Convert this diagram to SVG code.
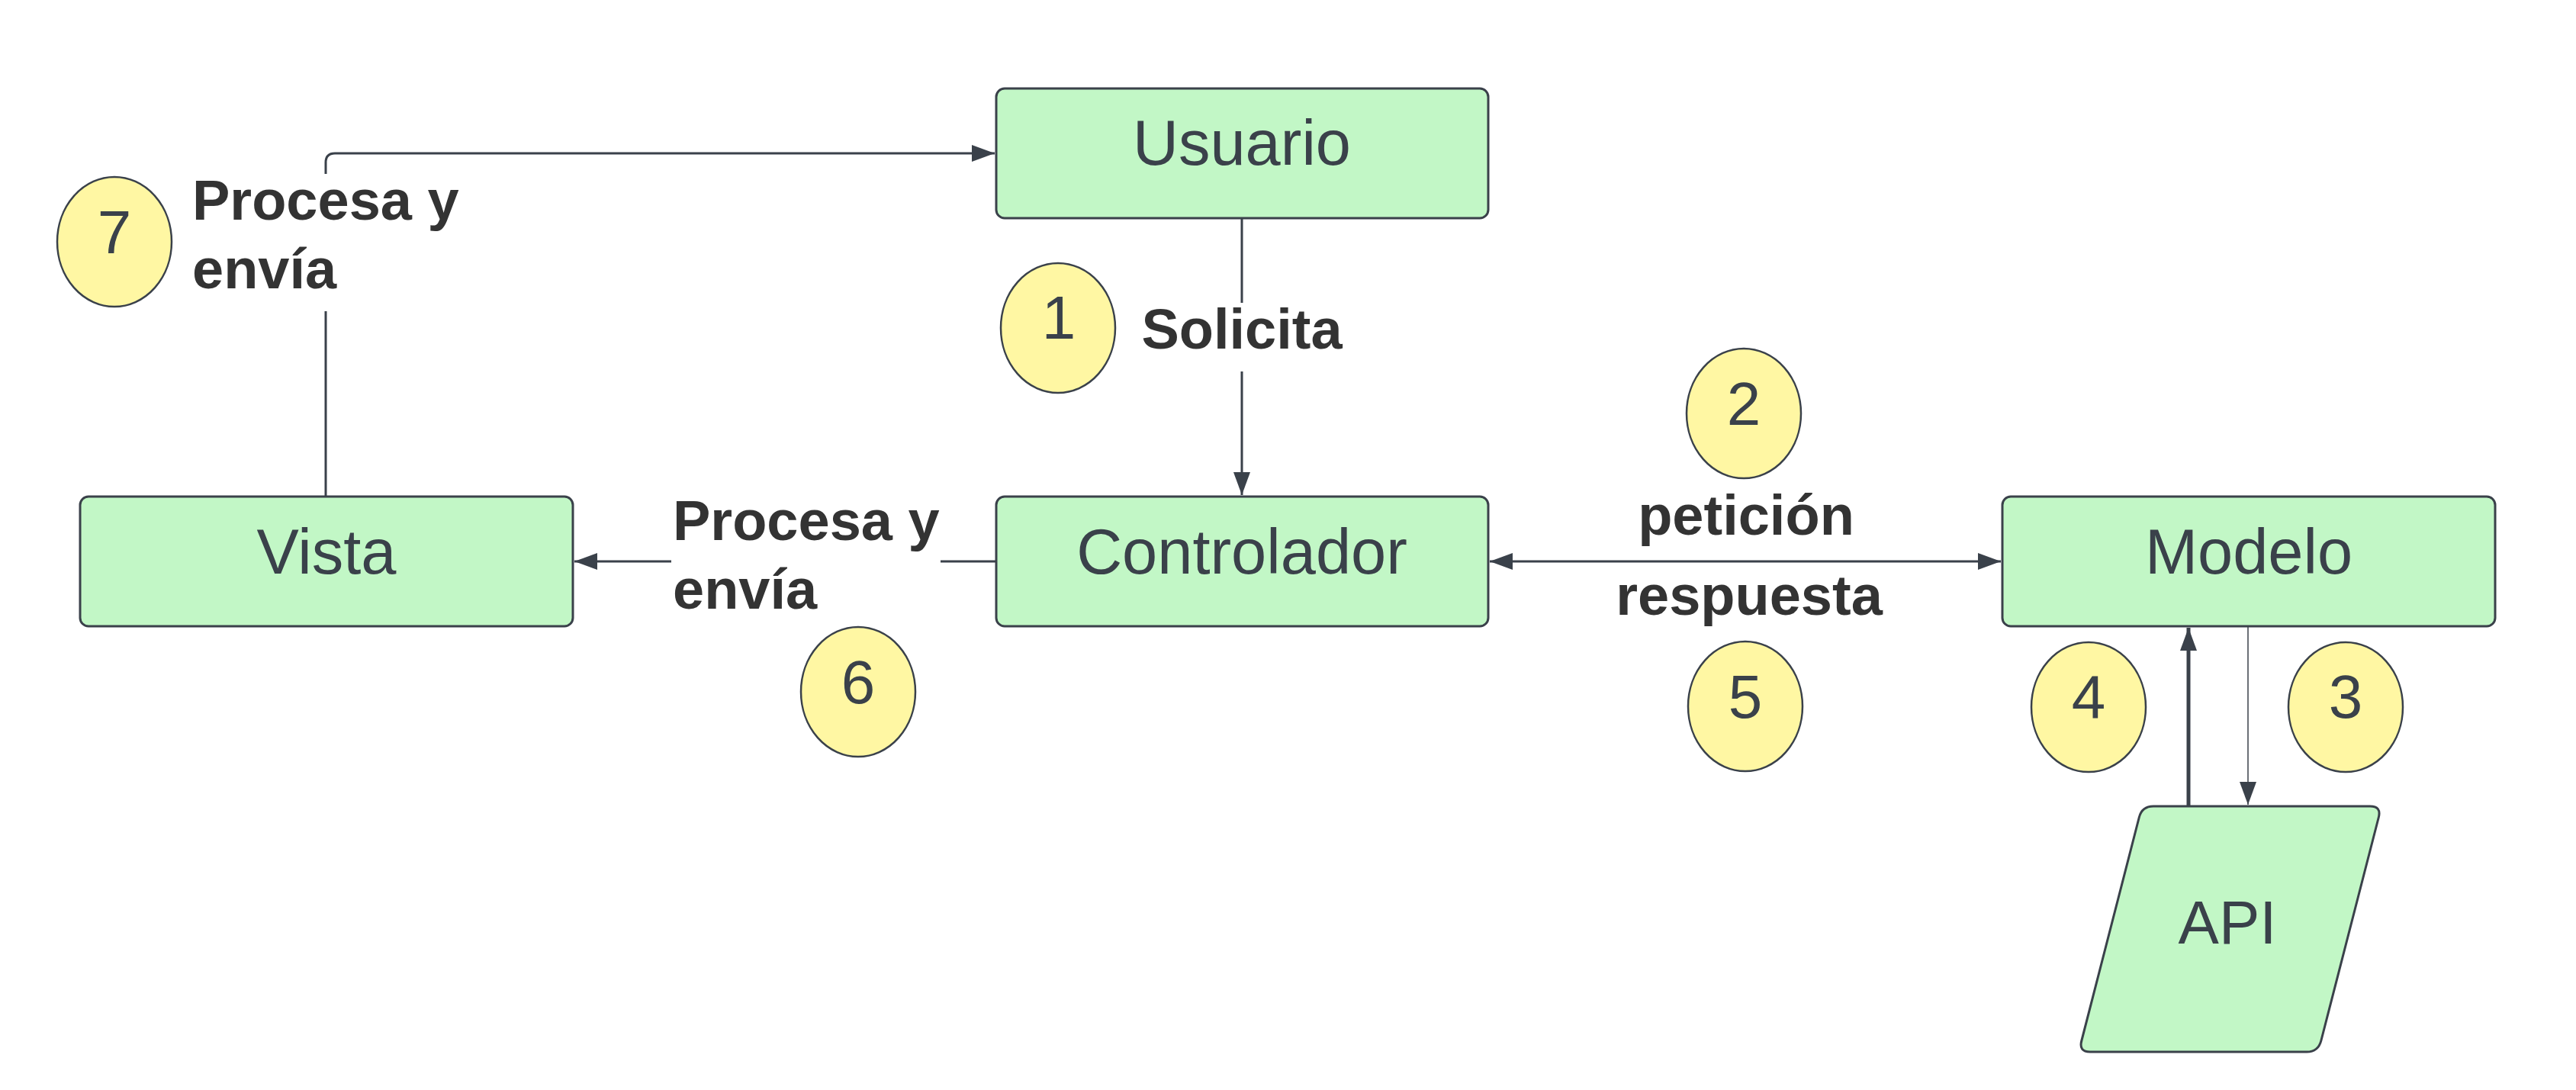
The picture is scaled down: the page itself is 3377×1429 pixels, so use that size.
<svg xmlns="http://www.w3.org/2000/svg" width="3377" height="1429" viewBox="0 0 3377 1429">
<style>
.box{fill:#c2f7c6;stroke:#3a414a;stroke-width:3}
.num{fill:#fff7a3;stroke:#3a414a;stroke-width:2.5}
.nt{font-family:"Liberation Sans",Arial,sans-serif;font-size:83px;fill:#3a414a;text-anchor:middle}
.nn{font-family:"Liberation Sans",Arial,sans-serif;font-size:80px;fill:#3a414a;text-anchor:middle}
.lb{font-family:"Liberation Sans",Arial,sans-serif;font-size:74px;font-weight:bold;fill:#333333}
.ln{fill:none;stroke:#3a414a;stroke-width:3}
</style>
<defs>
<marker id="ah" markerUnits="userSpaceOnUse" markerWidth="32" markerHeight="24" refX="30" refY="11" orient="auto-start-reverse" viewBox="0 0 32 22">
<path d="M0,0 L30,11 L0,22 Z" fill="#3a414a"/>
</marker>
</defs>
<rect width="3377" height="1429" fill="#ffffff"/>
<g id="connectors">
<path class="ln" d="M427,651 L427,408"/>
<path class="ln" d="M427,228 L427,213 Q427,201 439,201 L1304,201" marker-end="url(#ah)"/>
<path class="ln" d="M1628,286 L1628,397"/>
<path class="ln" d="M1628,487 L1628,649" marker-end="url(#ah)"/>
<path class="ln" d="M1953,736 L2623,736" marker-start="url(#ah)" marker-end="url(#ah)"/>
<path class="ln" d="M1305,736 L1233,736"/>
<path class="ln" d="M880,736 L753,736" marker-end="url(#ah)"/>
<path class="ln" style="stroke-width:5" d="M2869,1057 L2869,823" marker-end="url(#ah)"/>
<path class="ln" style="stroke-width:1.5" d="M2947,821 L2947,1055" marker-end="url(#ah)"/>
</g>
<g id="usuario"><rect class="box" x="1306" y="116" width="645" height="170" rx="11"/><text class="nt" x="1628" y="216">Usuario</text></g>
<g id="controlador"><rect class="box" x="1306" y="651" width="645" height="170" rx="11"/><text class="nt" x="1628" y="752">Controlador</text></g>
<g id="vista"><rect class="box" x="105" y="651" width="646" height="170" rx="11"/><text class="nt" x="428" y="752">Vista</text></g>
<g id="modelo"><rect class="box" x="2625" y="651" width="646" height="170" rx="11"/><text class="nt" x="2948" y="752">Modelo</text></g>
<g id="api"><path class="box" d="M2823,1057 L3107,1057 Q3122,1057 3118.3,1071.5 L3042.8,1364.5 Q3039,1379 3024,1379 L2740,1379 Q2725,1379 2728.8,1364.5 L2804.3,1071.5 Q2808,1057 2823,1057 Z"/><text class="nt" style="font-size:80px" x="2920" y="1237">API</text></g>
<g id="n1"><ellipse class="num" cx="1387" cy="430" rx="75" ry="85"/><text class="nn" x="1388" y="444">1</text></g>
<g id="n2"><ellipse class="num" cx="2286" cy="542" rx="75" ry="85"/><text class="nn" x="2286" y="557">2</text></g>
<g id="n3"><ellipse class="num" cx="3075" cy="927" rx="75" ry="85"/><text class="nn" x="3075" y="941">3</text></g>
<g id="n4"><ellipse class="num" cx="2738" cy="927" rx="75" ry="85"/><text class="nn" x="2738" y="941">4</text></g>
<g id="n5"><ellipse class="num" cx="2288" cy="926" rx="75" ry="85"/><text class="nn" x="2288" y="941">5</text></g>
<g id="n6"><ellipse class="num" cx="1125" cy="907" rx="75" ry="85"/><text class="nn" x="1125" y="922">6</text></g>
<g id="n7"><ellipse class="num" cx="150" cy="317" rx="75" ry="85"/><text class="nn" x="150" y="332">7</text></g>
<g id="labels">
<text class="lb" x="1628" y="457" text-anchor="middle">Solicita</text>
<text class="lb" x="2289" y="701" text-anchor="middle">petición</text>
<text class="lb" x="2293" y="806" text-anchor="middle">respuesta</text>
<text class="lb" x="882" y="708">Procesa y</text>
<text class="lb" x="882" y="798">envía</text>
<text class="lb" x="252" y="288">Procesa y</text>
<text class="lb" x="252" y="378">envía</text>
</g>
</svg>
